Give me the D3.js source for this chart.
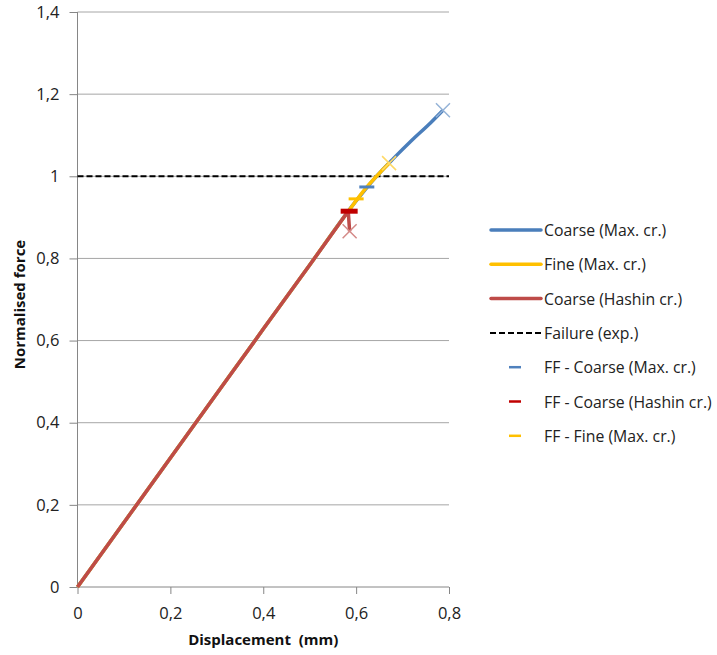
<!DOCTYPE html>
<html>
<head>
<meta charset="utf-8">
<script src="https://cdn.jsdelivr.net/npm/d3@7"></script>
<style>
  body { margin: 0; background: #fff; }
  text { font-family: "Open Sans", sans-serif; white-space: pre; }
</style>
</head>
<body>
<svg id="chart" width="717" height="655"></svg>
<script>
const width = 717;
const height = 655;

// data
const coarseMaxX = [0, 0.1, 0.2, 0.3, 0.4, 0.5, 0.6, 0.64, 0.68, 0.72, 0.76, 0.787];
const coarseMaxY = [0, 0.157, 0.314, 0.471, 0.628, 0.784, 0.94, 0.995, 1.043, 1.088, 1.13, 1.161];
const fineMaxX = [0, 0.1, 0.2, 0.3, 0.4, 0.5, 0.58, 0.62, 0.671];
const fineMaxY = [0, 0.157, 0.314, 0.471, 0.628, 0.784, 0.91, 0.97, 1.032];
const hashinX = [0, 0.1, 0.2, 0.3, 0.4, 0.5, 0.583, 0.586];
const hashinY = [0, 0.157, 0.314, 0.471, 0.628, 0.784, 0.915, 0.866];
const failureY = 1;
const ffCoarseMax = [0.623, 0.974];
const ffCoarseHashin = [0.585, 0.915];
const ffFineMax = [0.6, 0.945];
const xTicks = [0, 0.2, 0.4, 0.6, 0.8];
const yTicks = [0, 0.2, 0.4, 0.6, 0.8, 1, 1.2, 1.4];
const legendLabels = ["Coarse (Max. cr.)", "Fine (Max. cr.)", "Coarse (Hashin cr.)", "Failure (exp.)",
  "FF - Coarse (Max. cr.)", "FF - Coarse (Hashin cr.)", "FF - Fine (Max. cr.)"];

const blue = "#4a7ebb";
const yellow = "#ffc000";
const brown = "#be4b48";

const svg = d3.select("#chart");
const x = d3.scaleLinear().domain([0, 0.8]).range([77.5, 449]);
const y = d3.scaleLinear().domain([0, 1.4]).range([587, 12]);
const fmt = d => String(d).replace(".", ",");

// gridlines
svg.append("g")
  .selectAll("line")
  .data(yTicks.slice(1))
  .enter()
  .append("line")
  .attr("x1", x(0)).attr("x2", x(0.8))
  .attr("y1", d => y(d)).attr("y2", d => y(d))
  .attr("stroke", "#a6a6a6").attr("stroke-width", 1);

// axes
const yAxis = d3.axisLeft(y).tickValues(yTicks).tickFormat(fmt).tickSize(8).tickPadding(10);
const xAxis = d3.axisBottom(x).tickValues(xTicks).tickFormat(fmt).tickSize(7).tickPadding(13);

const gy = svg.append("g").attr("transform", `translate(${x(0)},0)`).call(yAxis);
const gx = svg.append("g").attr("transform", `translate(0,${y(0)})`).call(xAxis);
[gy, gx].forEach(g => {
  g.select(".domain").attr("stroke", "#868686");
  g.selectAll(".tick line").attr("stroke", "#868686");
  g.selectAll("text").attr("font-size", 16.5).attr("fill", "#222")
    .style("font-family", "'Open Sans', sans-serif");
});
gy.select(".domain").attr("d", `M0,${y(0)}V${y(1.4)}`);
gx.select(".domain").attr("d", `M${x(0)},0H${x(0.8)}`);

// axis titles
svg.append("text")
  .attr("transform", `translate(25,${(y(0) + y(1.4)) / 2 + 5}) rotate(-90)`)
  .attr("text-anchor", "middle")
  .attr("font-size", 15).attr("font-weight", "bold").attr("fill", "#111")
  .text("Normalised force");
svg.append("text")
  .attr("x", (x(0) + x(0.8)) / 2).attr("y", 645)
  .attr("text-anchor", "middle")
  .attr("font-size", 15).attr("font-weight", "bold").attr("fill", "#111")
  .text("Displacement  (mm)");

// failure line
svg.append("line")
  .attr("x1", x(0)).attr("x2", x(0.8))
  .attr("y1", y(failureY)).attr("y2", y(failureY))
  .attr("stroke", "#000").attr("stroke-width", 2).attr("stroke-dasharray", "6,3");

const smooth = d3.line().x(d => x(d[0])).y(d => y(d[1])).curve(d3.curveMonotoneX);
const straight = d3.line().x(d => x(d[0])).y(d => y(d[1]));
const series = [
  { xs: coarseMaxX, ys: coarseMaxY, color: blue, xcolor: "#95b3d7", gen: smooth },
  { xs: fineMaxX, ys: fineMaxY, color: yellow, xcolor: "#ffd966", gen: smooth },
  { xs: hashinX, ys: hashinY, color: brown, xcolor: "#d48a88", gen: straight }
];
series.forEach(s => {
  const pts = s.xs.map((v, i) => [v, s.ys[i]]);
  svg.append("path")
    .datum(pts)
    .attr("d", s.gen)
    .attr("fill", "none")
    .attr("stroke", s.color)
    .attr("stroke-width", 3.5)
    .attr("stroke-linejoin", "round");
  const last = pts[pts.length - 1];
  const cx = x(last[0]), cy = y(last[1]), r = 7;
  svg.append("path")
    .attr("d", `M${cx - r},${cy - r}L${cx + r},${cy + r}M${cx - r},${cy + r}L${cx + r},${cy - r}`)
    .attr("stroke", s.xcolor).attr("stroke-width", 1.5).attr("fill", "none");
});

// FF dash markers
const ffMarks = [
  { p: ffCoarseMax, color: "#4f81bd", w: 15, t: 3 },
  { p: ffCoarseHashin, color: "#c00000", w: 17, t: 5 },
  { p: ffFineMax, color: yellow, w: 15, t: 3 }
];
ffMarks.forEach(m => {
  svg.append("line")
    .attr("x1", x(m.p[0]) - m.w / 2).attr("x2", x(m.p[0]) + m.w / 2)
    .attr("y1", y(m.p[1])).attr("y2", y(m.p[1]))
    .attr("stroke", m.color).attr("stroke-width", m.t);
});

// legend
const legendStyles = [
  { color: blue, type: "line" },
  { color: yellow, type: "line" },
  { color: brown, type: "line" },
  { color: "#000", type: "dash" },
  { color: "#4f81bd", type: "mark" },
  { color: "#c00000", type: "mark" },
  { color: yellow, type: "mark" }
];
const lg = svg.append("g");
legendLabels.forEach((label, i) => {
  const ly = 230 + i * 34.3;
  const st = legendStyles[i];
  if (st.type === "line") {
    lg.append("line").attr("x1", 491).attr("x2", 541).attr("y1", ly).attr("y2", ly)
      .attr("stroke", st.color).attr("stroke-width", 3.5).attr("stroke-linecap", "round");
  } else if (st.type === "dash") {
    lg.append("line").attr("x1", 490).attr("x2", 541).attr("y1", ly).attr("y2", ly)
      .attr("stroke", st.color).attr("stroke-width", 2).attr("stroke-dasharray", "6,3");
  } else {
    lg.append("line").attr("x1", 509).attr("x2", 521).attr("y1", ly).attr("y2", ly)
      .attr("stroke", st.color).attr("stroke-width", 2.5);
  }
  lg.append("text")
    .attr("x", 544).attr("y", ly + 6)
    .attr("font-size", 15.8).attr("fill", "#222")
    .text(label);
});
</script>
</body>
</html>
